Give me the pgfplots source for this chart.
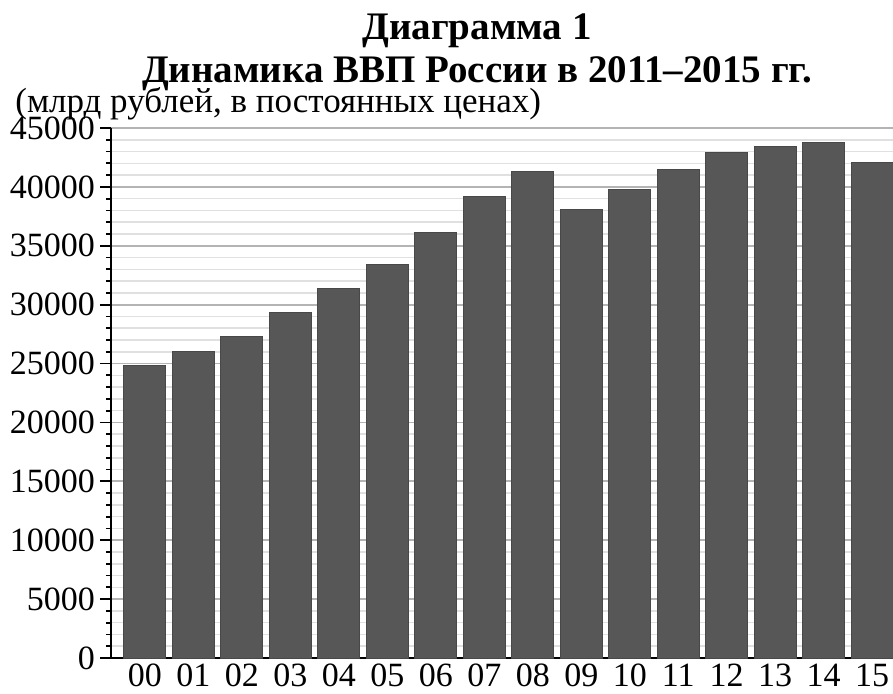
\documentclass[border=0pt]{standalone}
\usepackage{fontspec}
\setmainfont{Liberation Serif}
\usepackage{pgfplots}
\pgfplotsset{compat=1.18}
\definecolor{barfill}{HTML}{575757}
\definecolor{baredge}{HTML}{484848}
\definecolor{majgrid}{HTML}{B4B4B4}
\definecolor{mingrid}{HTML}{E0E0E0}
\begin{document}
\begin{tikzpicture}
\useasboundingbox (-55.5pt,-17.5pt) rectangle (391pt,329pt);
\begin{axis}[
  at={(0,0)}, anchor=south west,
  scale only axis, width=391pt, height=265pt,
  xmin=-0.70, xmax=15.43, ymin=0, ymax=45000,
  axis lines*=left,
  axis line style={black, line width=1pt},
  xtick={0,...,15},
  xticklabels={00,01,02,03,04,05,06,07,08,09,10,11,12,13,14,15},
  xtick style={draw=none},
  ytick distance=5000,
  minor y tick num=4,
  tick align=outside,
  major tick length=5.5pt, minor tick length=2.5pt,
  every tick/.style={black, line width=0.9pt},
  ymajorgrids, yminorgrids,
  major grid style={majgrid, line width=0.9pt},
  minor grid style={mingrid, line width=0.8pt},
  scaled y ticks=false,
  /pgf/number format/.cd, fixed, set thousands separator={}, assume math mode=true,
  /pgfplots/.cd,
  tick label style={font=\fontsize{17}{19}\selectfont},
  yticklabel style={xshift=1pt, inner ysep=0pt},
  xticklabel style={yshift=6pt},
  ybar, bar width=21pt,
]
\addplot[fill=barfill, draw=baredge, line width=0.5pt] coordinates {
(0,24800) (1,26060) (2,27310) (3,29300) (4,31410) (5,33410) (6,36130) (7,39220)
(8,41280) (9,38050) (10,39760) (11,41460) (12,42940) (13,43450) (14,43750) (15,42100)};
\end{axis}
\node[anchor=base, font=\fontsize{19.5}{22}\selectfont\bfseries] at (183pt,309.5pt) {Диаграмма 1};
\node[anchor=base, inner sep=0pt, font=\fontsize{19.5}{22}\selectfont\bfseries] at (183pt,288pt) {Динамика ВВП России в 2011–2015 гг.};
\node[anchor=base west, inner sep=0pt, font=\fontsize{17.5}{19}\selectfont] at (-48pt,273pt) {(млрд рублей, в постоянных ценах)};
\end{tikzpicture}
\end{document}
